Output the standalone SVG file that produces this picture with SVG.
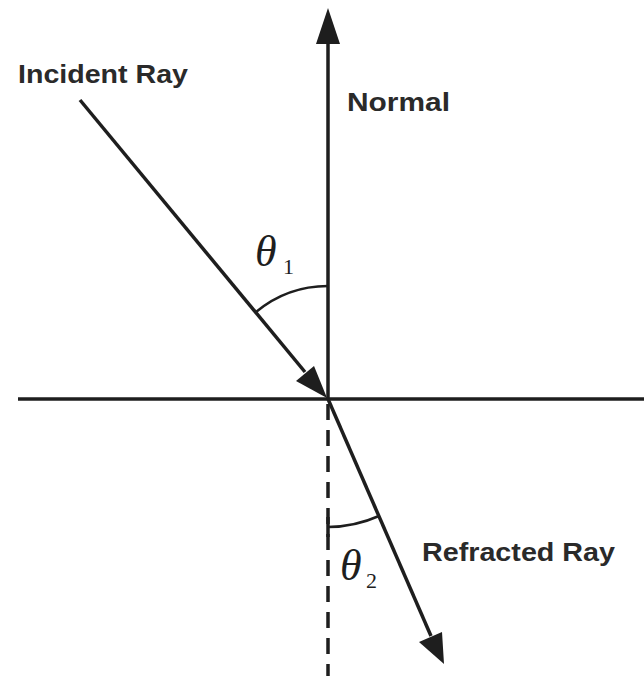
<svg xmlns="http://www.w3.org/2000/svg" width="644" height="676" viewBox="0 0 644 676">
<defs>
<style>
.ln{stroke:#1e1e1e;stroke-width:3.5;fill:none;stroke-linecap:butt}
.arc{stroke:#1e1e1e;stroke-width:2.5;fill:none}
.head{fill:#1e1e1e}
.lbl{font-family:"Liberation Sans",Arial,sans-serif;font-weight:bold;font-size:26px;fill:#2a2a2a}
.th{font-family:"Liberation Serif","Times New Roman",serif;font-style:italic;font-size:44px;fill:#1e1e1e}
.sub{font-family:"Liberation Serif","Times New Roman",serif;font-size:22px;fill:#1e1e1e}
</style>
</defs>
<rect width="644" height="676" fill="#ffffff"/>
<g id="connectors">
<line class="ln" x1="18" y1="399" x2="644" y2="399"/>
<line class="ln" x1="328" y1="399" x2="328" y2="42"/>
<path class="head" d="M328,8 L340,44 L316,44 Z"/>
<line class="ln" x1="80" y1="100" x2="305" y2="372"/>
<path class="head" d="M327,398 L296,381 L314,366 Z"/>
<line class="ln" x1="328" y1="399" x2="431" y2="636"/>
<path class="head" d="M444,664 L419,642 L442,632 Z"/>
<line class="ln" x1="328" y1="404" x2="328" y2="676" stroke-dasharray="16 10"/>
</g>
<g id="angle1">
<path class="arc" d="M256,312 A113,113 0 0 1 328,286"/>
<text class="th" x="255" y="266">θ</text>
<text class="sub" x="283" y="274">1</text>
</g>
<g id="angle2">
<path class="arc" d="M328,527 A128,128 0 0 0 379,516"/>
<line class="ln" x1="328" y1="517" x2="328" y2="537"/>
<text class="th" x="340" y="580">θ</text>
<text class="sub" x="366" y="588">2</text>
</g>
<g id="label-incident"><text class="lbl" x="18" y="83" textLength="170" lengthAdjust="spacingAndGlyphs">Incident Ray</text></g>
<g id="label-normal"><text class="lbl" x="347" y="111" textLength="103" lengthAdjust="spacingAndGlyphs">Normal</text></g>
<g id="label-refracted"><text class="lbl" x="422" y="561" textLength="193" lengthAdjust="spacingAndGlyphs">Refracted Ray</text></g>
</svg>
